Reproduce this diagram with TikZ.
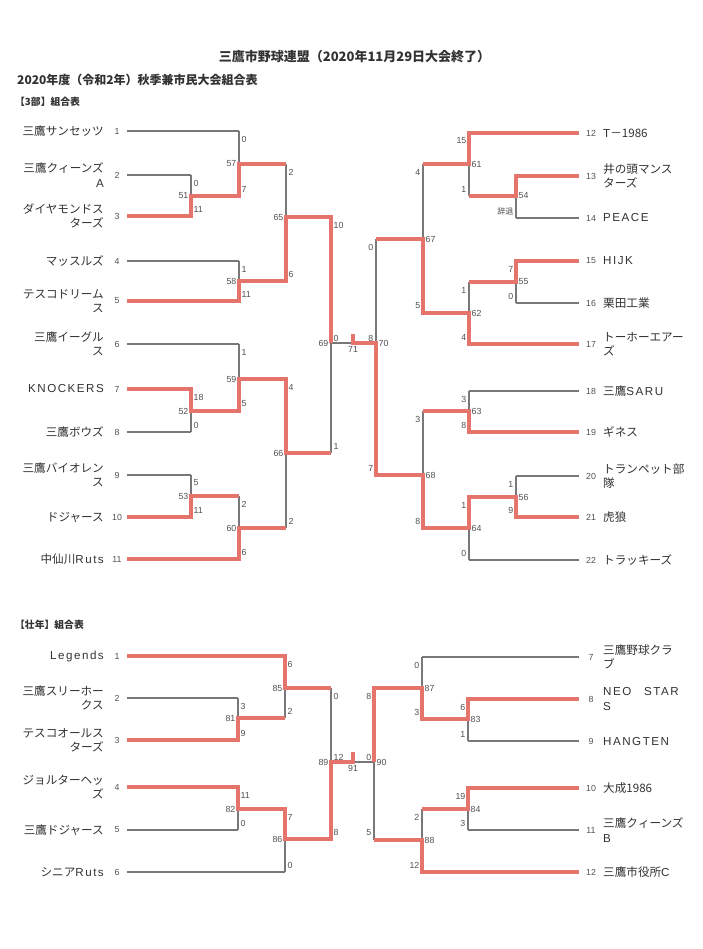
\documentclass[tikz,border=0pt]{standalone}
\usepackage{fontspec}
\setmainfont{Noto Sans CJK JP}
\newfontfamily\latf[LetterSpace=13]{Liberation Sans}
\newfontfamily\numf{Liberation Sans}
\definecolor{ink}{RGB}{50,50,50}
\definecolor{lgray}{RGB}{120,120,120}
\definecolor{wred}{RGB}{228,116,108}
\tikzset{
  gl/.style={draw=lgray,line width=1.15pt},
  rl/.style={draw=wred,line width=3.2pt,line join=miter},
  nmL/.style={anchor=east,inner sep=0pt,align=right,text=ink,font=\fontsize{11.6}{14.5}\selectfont},
  nmR/.style={anchor=west,inner sep=0pt,align=left,text=ink,font=\fontsize{11.6}{14.5}\selectfont},
  tno/.style={inner sep=0pt,text=ink!85,font=\numf\fontsize{8.8}{10}\selectfont},
  sc/.style={inner sep=0.5pt,text=ink!85,font=\numf\fontsize{8.8}{10}\selectfont},
  hd/.style={anchor=west,inner sep=0pt,text=ink,font=\bfseries\fontsize{12}{14}\selectfont},
}
% match: name, x, ytop, ymid, ybot
\newcommand\defm[5]{%
  \coordinate (#1-t) at (#2,#3);
  \coordinate (#1-m) at (#2,#4);
  \coordinate (#1-b) at (#2,#5);
  \draw[gl] (#1-t) -- (#1-b);}
% team on the left: id, y, number, name, end coordinate
\newcommand\teamL[5]{%
  \node[nmL] (n#1) at (104,#2) {#4};
  \node[tno] (k#1) at (117,#2) {#3};
  \coordinate (#1) at (127,#2);
  \draw[gl] (#1) -- (#5);}
% team on the right
\newcommand\teamR[5]{%
  \node[nmR] (n#1) at (603,#2) {#4};
  \node[tno] (k#1) at (591,#2) {#3};
  \coordinate (#1) at (579,#2);
  \draw[gl] (#1) -- (#5);}
% labels of a match on the left half: name, number, top score, bottom score
\newcommand\labL[4]{%
  \node[sc,anchor=west] (#1-st) at ([shift={(2,8)}]#1-t) {#3};
  \node[sc,anchor=west] (#1-sb) at ([shift={(2,-7)}]#1-b) {#4};
  \node[sc,anchor=east] (#1-no) at ([shift={(-2,0)}]#1-m) {#2};}
\newcommand\labR[4]{%
  \node[sc,anchor=east] (#1-st) at ([shift={(-2,8)}]#1-t) {#3};
  \node[sc,anchor=east] (#1-sb) at ([shift={(-2,-7)}]#1-b) {#4};
  \node[sc,anchor=west] (#1-no) at ([shift={(2,0)}]#1-m) {#2};}
\begin{document}
\begin{tikzpicture}[x=1pt,y=-1pt]
\fill[white] (0,0) rectangle (702,949);
\useasboundingbox (0,0) rectangle (702,949);

% headers
\node[inner sep=0pt,text=ink,font=\bfseries\fontsize{13}{15}\selectfont] (title) at (354.5,57) {三鷹市野球連盟（2020年11月29日大会終了）};
\node[hd] (sub) at (17,80) {2020年度（令和2年）秋季兼市民大会組合表};
\node[hd,font=\bfseries\fontsize{9.8}{12}\selectfont] (sec1) at (15,102) {【3部】組合表};
\node[hd,font=\bfseries\fontsize{9.8}{12}\selectfont] (sec2) at (15,625) {【壮年】組合表};

% ===== 3部 : left half =====
\defm{M51}{191}{175}{196}{216}
\defm{M57}{239}{131}{164}{196}
\defm{M58}{239}{261}{281}{301}
\defm{M65}{286}{164}{217}{281}
\defm{M52}{191}{389}{411}{432}
\defm{M59}{239}{344}{379}{411}
\defm{M53}{191}{475}{496}{517}
\defm{M60}{239}{496}{528}{559}
\defm{M66}{286}{379}{453}{528}
\defm{M69}{331}{217}{343}{453}
% right half
\defm{M54}{516}{176}{196}{218}
\defm{M61}{469}{133}{164}{196}
\defm{M55}{516}{261}{282}{303}
\defm{M62}{469}{282}{313}{344}
\defm{M67}{423}{164}{239}{313}
\defm{M63}{469}{391}{411}{432}
\defm{M56}{516}{476}{497}{517}
\defm{M64}{469}{497}{528}{560}
\defm{M68}{423}{411}{475}{528}
\defm{M70}{376}{239}{343}{475}
% final 71
\coordinate (F71-c) at (353,343);
\coordinate (F71-k) at (353,334);
\draw[gl] (M69-m) -- (M70-m);

\teamL{L1}{131}{1}{三鷹サンセッツ}{M57-t}
\teamL{L2}{175}{2}{三鷹クィーンズ\\{\latf A}}{M51-t}
\teamL{L3}{216}{3}{ダイヤモンドス\\ターズ}{M51-b}
\teamL{L4}{261}{4}{マッスルズ}{M58-t}
\teamL{L5}{301}{5}{テスコドリーム\\ス}{M58-b}
\teamL{L6}{344}{6}{三鷹イーグル\\ス}{M59-t}
\teamL{L7}{389}{7}{{\latf KNOCKERS}}{M52-t}
\teamL{L8}{432}{8}{三鷹ボウズ}{M52-b}
\teamL{L9}{475}{9}{三鷹バイオレン\\ス}{M53-t}
\teamL{L10}{517}{10}{ドジャース}{M53-b}
\teamL{L11}{559}{11}{中仙川{\latf Ruts}}{M60-b}

\teamR{R12}{133}{12}{{\latf T}－1986}{M61-t}
\teamR{R13}{176}{13}{井の頭マンス\\ターズ}{M54-t}
\teamR{R14}{218}{14}{{\latf PEACE}}{M54-b}
\teamR{R15}{261}{15}{{\latf HIJK}}{M55-t}
\teamR{R16}{303}{16}{栗田工業}{M55-b}
\teamR{R17}{344}{17}{トーホーエアー\\ズ}{M62-b}
\teamR{R18}{391}{18}{三鷹{\latf SARU}}{M63-t}
\teamR{R19}{432}{19}{ギネス}{M63-b}
\teamR{R20}{476}{20}{トランペット部\\隊}{M56-t}
\teamR{R21}{517}{21}{虎狼}{M56-b}
\teamR{R22}{560}{22}{トラッキーズ}{M64-b}

% ===== 壮年 =====
\defm{N81}{238}{698}{718}{740}
\defm{N85}{285}{656}{688}{718}
\defm{N82}{238}{787}{809}{830}
\defm{N86}{285}{809}{839}{872}
\defm{N89}{331}{688}{762}{839}
\defm{N83}{468}{699}{719}{741}
\defm{N87}{422}{657}{688}{719}
\defm{N84}{468}{788}{809}{830}
\defm{N88}{422}{809}{840}{872}
\defm{N90}{374}{688}{762}{840}
\coordinate (F91-c) at (353,762);
\coordinate (F91-k) at (353,752);
\draw[gl] (N89-m) -- (N90-m);

\teamL{BL1}{656}{1}{{\latf Legends}}{N85-t}
\teamL{BL2}{698}{2}{三鷹スリーホー\\クス}{N81-t}
\teamL{BL3}{740}{3}{テスコオールス\\ターズ}{N81-b}
\teamL{BL4}{787}{4}{ジョルターヘッ\\ズ}{N82-t}
\teamL{BL5}{830}{5}{三鷹ドジャース}{N82-b}
\teamL{BL6}{872}{6}{シニア{\latf Ruts}}{N86-b}

\teamR{BR7}{657}{7}{三鷹野球クラ\\ブ}{N87-t}
\teamR{BR8}{699}{8}{{\latf NEO\hspace{1.1em}STAR}\\{\latf S}}{N83-t}
\teamR{BR9}{741}{9}{{\latf HANGTEN}}{N83-b}
\teamR{BR10}{788}{10}{大成1986}{N84-t}
\teamR{BR11}{830}{11}{三鷹クィーンズ\\{\latf B}}{N84-b}
\teamR{BR12}{872}{12}{三鷹市役所{\latf C}}{N88-b}

% ===== winner paths =====
\draw[rl] (L3) -- (M51-b) -- (M51-m) -- (M57-b) -- (M57-m) -- (M65-t);
\draw[rl] (L5) -- (M58-b) -- (M58-m) -- (M65-b) -- (M65-m) -- (M69-t) -- (M69-m);
\draw[rl] (L7) -- (M52-t) -- (M52-m) -- (M59-b) -- (M59-m) -- (M66-t) -- (M66-m) -- (M69-b);
\draw[rl] (L10) -- (M53-b) -- (M53-m) -- (M60-t);
\draw[rl] (L11) -- (M60-b) -- (M60-m) -- (M66-b);
\draw[rl] (R12) -- (M61-t) -- (M61-m) -- (M67-t);
\draw[rl] (R13) -- (M54-t) -- (M54-m) -- (M61-b);
\draw[rl] (R15) -- (M55-t) -- (M55-m) -- (M62-t);
\draw[rl] (R17) -- (M62-b) -- (M62-m) -- (M67-b) -- (M67-m) -- (M70-t);
\draw[rl] (R19) -- (M63-b) -- (M63-m) -- (M68-t);
\draw[rl] (R21) -- (M56-b) -- (M56-m) -- (M64-t) -- (M64-m) -- (M68-b) -- (M68-m) -- (M70-b) -- (M70-m) -- (F71-c) -- (F71-k);

\draw[rl] (BL1) -- (N85-t) -- (N85-m) -- (N89-t);
\draw[rl] (BL3) -- (N81-b) -- (N81-m) -- (N85-b);
\draw[rl] (BL4) -- (N82-t) -- (N82-m) -- (N86-t) -- (N86-m) -- (N89-b) -- (N89-m) -- (F91-c) -- (F91-k);
\draw[rl] (BR8) -- (N83-t) -- (N83-m) -- (N87-b) -- (N87-m) -- (N90-t) -- (N90-m);
\draw[rl] (BR10) -- (N84-t) -- (N84-m) -- (N88-t);
\draw[rl] (BR12) -- (N88-b) -- (N88-m) -- (N90-b);

% ===== scores and match numbers =====
\labL{M51}{51}{0}{11}
\labL{M57}{57}{0}{7}
\labL{M58}{58}{1}{11}
\labL{M65}{65}{2}{6}
\labL{M52}{52}{18}{0}
\labL{M59}{59}{1}{5}
\labL{M53}{53}{5}{11}
\labL{M60}{60}{2}{6}
\labL{M66}{66}{4}{2}
\labL{M69}{69}{10}{1}
\labR{M54}{54}{}{{\rmfamily\fontsize{8}{9}\selectfont 辞退}}
\labR{M61}{61}{15}{1}
\labR{M55}{55}{7}{0}
\labR{M62}{62}{1}{4}
\labR{M67}{67}{4}{5}
\labR{M63}{63}{3}{8}
\labR{M56}{56}{1}{9}
\labR{M64}{64}{1}{0}
\labR{M68}{68}{3}{8}
\labR{M70}{70}{0}{7}
\node[sc,anchor=south west] (f71a) at ([shift={(2,-1)}]M69-m) {0};
\node[sc,anchor=south east] (f71b) at ([shift={(-2,-1)}]M70-m) {8};
\node[sc,anchor=north] (f71n) at ([shift={(0,3)}]F71-c) {71};

\labL{N81}{81}{3}{9}
\labL{N85}{85}{6}{2}
\labL{N82}{82}{11}{0}
\labL{N86}{86}{7}{0}
\labL{N89}{89}{0}{8}
\labR{N83}{83}{6}{1}
\labR{N87}{87}{0}{3}
\labR{N84}{84}{19}{3}
\labR{N88}{88}{2}{12}
\labR{N90}{90}{8}{5}
\node[sc,anchor=south west] (f91a) at ([shift={(2,-1)}]N89-m) {12};
\node[sc,anchor=south east] (f91b) at ([shift={(-2,-1)}]N90-m) {0};
\node[sc,anchor=north] (f91n) at ([shift={(0,3)}]F91-c) {91};
\end{tikzpicture}
\end{document}
